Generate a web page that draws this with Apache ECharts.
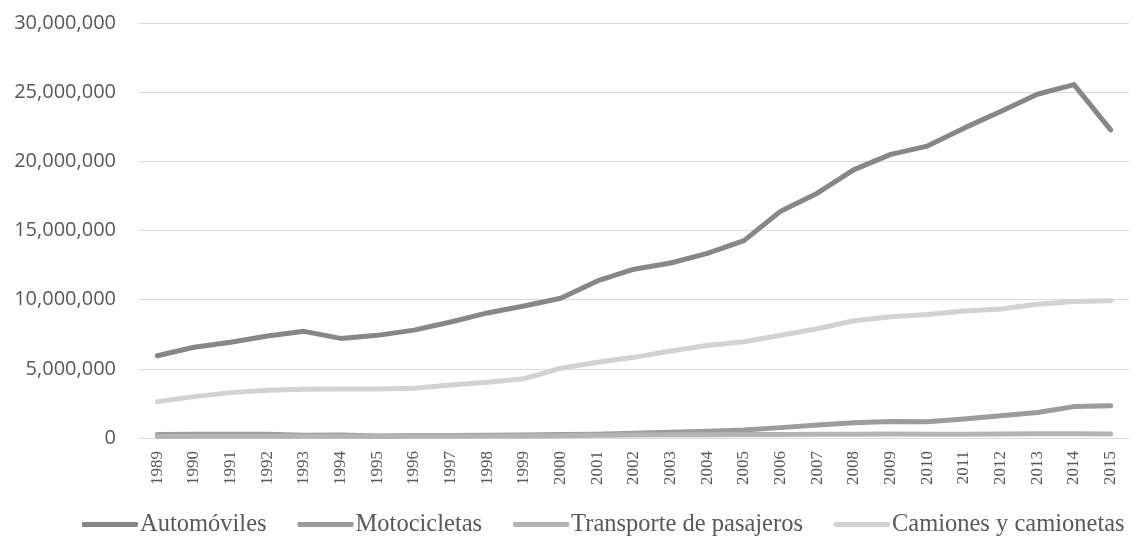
<!DOCTYPE html>
<html>
<head>
<meta charset="utf-8">
<script src="https://cdn.jsdelivr.net/npm/echarts@6/dist/echarts.min.js"></script>
<style>
  html, body { margin: 0; padding: 0; background: #ffffff; }
  #chart { width: 1143px; height: 546px; }
</style>
</head>
<body>
<div id="chart"></div>
<script>
// años
var years = ['1989','1990','1991','1992','1993','1994','1995','1996','1997','1998','1999','2000','2001','2002',
             '2003','2004','2005','2006','2007','2008','2009','2010','2011','2012','2013','2014','2015'];

// vehículos registrados por tipo
var automoviles = [5950000, 6560000, 6920000, 7370000, 7710000, 7200000, 7420000, 7800000, 8390000, 9040000,
                   9540000, 10100000, 11350000, 12200000, 12650000, 13350000, 14270000, 16400000, 17700000,
                   19400000, 20500000, 21100000, 22400000, 23600000, 24850000, 25550000, 22270000];
var motocicletas = [250000, 270000, 270000, 280000, 200000, 220000, 150000, 180000, 180000, 200000, 220000,
                    250000, 270000, 340000, 410000, 480000, 580000, 750000, 940000, 1100000, 1200000,
                    1180000, 1370000, 1610000, 1850000, 2270000, 2340000];
var transporte = [110000, 120000, 120000, 130000, 120000, 120000, 110000, 120000, 130000, 140000, 150000,
                  170000, 190000, 210000, 230000, 240000, 250000, 260000, 270000, 280000, 290000, 280000,
                  280000, 290000, 300000, 300000, 290000];
var camiones = [2630000, 2990000, 3280000, 3450000, 3520000, 3540000, 3540000, 3600000, 3830000, 4030000,
                4290000, 5040000, 5470000, 5830000, 6290000, 6680000, 6960000, 7430000, 7900000, 8480000,
                8770000, 8920000, 9180000, 9330000, 9670000, 9860000, 9930000];

var serieNames = ['Automóviles', 'Motocicletas', 'Transporte de pasajeros', 'Camiones y camionetas'];
var serieColors = ['#878787', '#9c9c9c', '#b4b4b4', '#d2d2d2'];
var serieData = [automoviles, motocicletas, transporte, camiones];

var myChart = echarts.init(document.getElementById('chart'));

var series = serieNames.map(function (name, i) {
    return {
        name: name,
        type: 'line',
        data: serieData[i],
        symbol: 'none',
        lineStyle: { width: 5, color: serieColors[i], cap: 'round', join: 'round' },
        itemStyle: { color: serieColors[i] },
        animation: false
    };
});

var option = {
    backgroundColor: '#ffffff',
    grid: { left: 139, right: 14, top: 23, height: 415 },
    legend: {
        left: 77,
        top: 507,
        icon: 'roundRect',
        itemWidth: 56,
        itemHeight: 5,
        itemGap: 31,
        data: serieNames,
        textStyle: { fontFamily: 'Liberation Serif', fontSize: 24.5, color: '#595959', padding: [0, 0, 0, -3] }
    },
    xAxis: {
        type: 'category',
        data: years,
        boundaryGap: true,
        axisLine: { lineStyle: { color: '#d9d9d9', width: 1 } },
        axisTick: { show: false },
        axisLabel: {
            rotate: 90,
            interval: 0,
            margin: 13,
            fontFamily: 'Liberation Serif',
            fontSize: 17,
            color: '#595959'
        }
    },
    yAxis: {
        type: 'value',
        min: 0,
        max: 30000000,
        interval: 5000000,
        axisLine: { show: false },
        axisTick: { show: false },
        splitLine: { lineStyle: { color: '#d9d9d9', width: 1 } },
        axisLabel: {
            margin: 23,
            fontFamily: 'Open Sans',
            fontSize: 20,
            color: '#595959',
            formatter: function (v) { return v.toLocaleString('en-US'); }
        }
    },
    series: series
};

myChart.setOption(option);
</script>
</body>
</html>
